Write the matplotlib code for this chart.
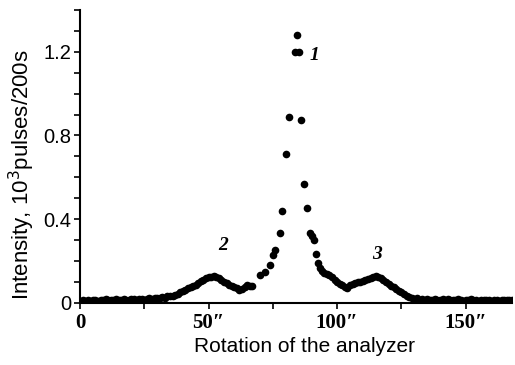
import matplotlib.pyplot as plt
from matplotlib.ticker import MultipleLocator, FixedLocator

# Rotation angle of the analyzer (arc seconds)
angle = [0, 1, 2, 3, 4, 5, 6, 7, 8, 9, 10, 11, 12, 13, 14, 15, 16, 17, 18, 19,
         20, 21, 22, 23, 24, 25, 26, 27, 28, 29, 30, 31, 32, 33, 34, 35, 36, 37, 38, 39,
         40, 41, 42, 43, 44, 45, 46, 47, 48, 49, 50, 51, 52, 53, 54, 55, 56, 57, 58, 59,
         60, 61, 62, 63, 64, 65, 66, 67,
         70, 72, 73.8, 75, 76, 77.6, 78.4, 80, 81.2, 83.5, 84.2, 85.3, 86, 87, 88.1,
         89.4, 90.4, 91, 91.8, 92.5, 93.3, 94, 95, 96, 97, 98, 99,
         100, 101, 102, 103, 104, 105, 106, 107, 108, 109, 110, 111, 112, 113, 114, 115,
         116, 117, 118, 119, 120, 121, 122, 123, 124, 125, 126, 127, 128, 129, 130, 131,
         132, 133, 134, 135, 136, 137, 138, 139, 140, 141, 142, 143, 144, 145, 146, 147,
         148, 149, 150, 151, 152, 153, 154, 155, 156, 157, 158, 159, 160, 161, 162, 163,
         164, 165, 166, 167, 168]

# Intensity, 10^3 pulses / 200 s
intensity = [0.010, 0.012, 0.008, 0.014, 0.010, 0.012, 0.015, 0.010, 0.016, 0.012,
             0.018, 0.014, 0.012, 0.016, 0.019, 0.015, 0.012, 0.018, 0.016, 0.014,
             0.020, 0.017, 0.015, 0.021, 0.018, 0.016, 0.020, 0.024, 0.020, 0.022,
             0.026, 0.024, 0.028, 0.026, 0.032, 0.035, 0.034, 0.040, 0.045, 0.050,
             0.055, 0.062, 0.070, 0.075, 0.080, 0.088, 0.095, 0.105, 0.112, 0.120,
             0.125, 0.122, 0.127, 0.124, 0.118, 0.110, 0.100, 0.095, 0.088, 0.082,
             0.075, 0.070, 0.062, 0.068, 0.076, 0.084, 0.080, 0.083,
             0.134, 0.150, 0.180, 0.230, 0.254, 0.335, 0.437, 0.710, 0.890, 1.200,
             1.280, 1.200, 0.875, 0.570, 0.455, 0.336, 0.320, 0.300, 0.234, 0.190,
             0.167, 0.152, 0.145, 0.140, 0.134, 0.125, 0.112,
             0.100, 0.092, 0.086, 0.076, 0.072, 0.084, 0.090, 0.095, 0.100, 0.100,
             0.105, 0.110, 0.115, 0.120, 0.125, 0.127, 0.125, 0.120, 0.110, 0.100,
             0.090, 0.082, 0.075, 0.066, 0.058, 0.050, 0.042, 0.035, 0.030, 0.025,
             0.020, 0.022, 0.015, 0.018, 0.014, 0.020, 0.016, 0.013, 0.018, 0.015,
             0.012, 0.017, 0.014, 0.019, 0.013, 0.016, 0.012, 0.018, 0.014, 0.011,
             0.016, 0.013, 0.017, 0.012, 0.015, 0.011, 0.014, 0.016, 0.012, 0.015,
             0.010, 0.013, 0.016, 0.011, 0.014, 0.012, 0.015, 0.013, 0.012]

xticks = [0, 50, 100, 150]
xticklabels = ['0', '50\u2033', '100\u2033', '150\u2033']
yticks = [0, 0.4, 0.8, 1.2]
yticklabels = ['0', '0.4', '0.8', '1.2']

# peak labels: text, x, y
peak_labels = [('1', 89.3, 1.14), ('2', 53.6, 0.235), ('3', 113.6, 0.19)]

fig = plt.figure(figsize=(5.15, 3.65), dpi=100)
ax = fig.add_axes([0.1553, 0.170, 0.839, 0.803])

ax.plot(angle, intensity, 'o', color='black', markersize=5.5, markeredgewidth=0)

for txt, px, py in peak_labels:
    ax.text(px, py, txt, fontsize=14, family='Liberation Serif', style='italic',
            weight='bold', ha='left', va='bottom')

ax.set_xlim(0, 168)
ax.set_ylim(0, 1.40)

for s in ['top', 'right']:
    ax.spines[s].set_visible(False)
for s in ['left', 'bottom']:
    ax.spines[s].set_linewidth(1.5)

ax.xaxis.set_major_locator(FixedLocator(xticks))
ax.set_xticklabels(xticklabels, family='Liberation Serif', fontsize=15, weight='bold')
ax.xaxis.set_minor_locator(MultipleLocator(25))
ax.yaxis.set_major_locator(FixedLocator(yticks))
ax.set_yticklabels(yticklabels, family='Liberation Sans', fontsize=14.5)
ax.yaxis.set_minor_locator(MultipleLocator(0.1))
ax.tick_params(which='both', direction='out', length=4, width=1.2)
ax.tick_params(axis='y', pad=2)
ax.tick_params(axis='x', pad=3)

ax.set_xlabel('Rotation of the analyzer', family='Liberation Sans', fontsize=15, labelpad=1)
ax.xaxis.set_label_coords(0.52, -0.115)
ax.set_ylabel('Intensity, 10$^3$pulses/200s', family='Liberation Sans', fontsize=16)
ax.yaxis.set_label_coords(-0.10, 0.437)

fig.savefig('out.png', dpi=100)
